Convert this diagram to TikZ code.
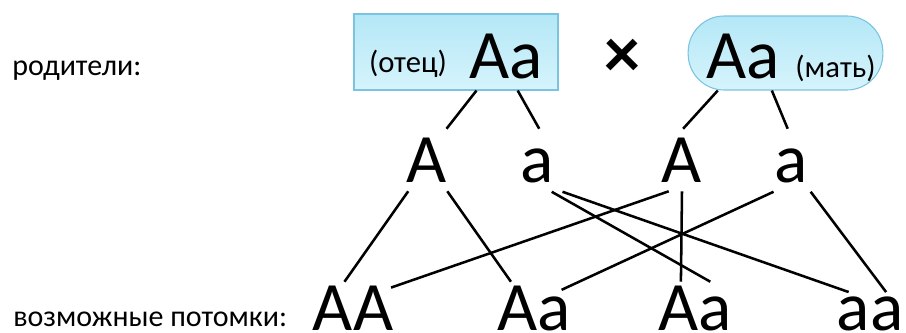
\documentclass[tikz,border=0pt]{standalone}
\usepackage{fontspec}
\setmainfont{Carlito}

\definecolor{rand}{RGB}{122,196,224}
\definecolor{oben}{RGB}{180,231,246}
\definecolor{unten}{RGB}{214,244,252}

\begin{document}
\begin{tikzpicture}[x=0.75pt,y=-0.75pt,line width=1.9pt,
  klein/.style={font=\fontsize{22.5}{26}\selectfont,inner sep=0pt},
  gross/.style={font=\fontsize{52}{60}\selectfont,anchor=base},
  eltern/.style={draw=rand,line width=0.8pt,top color=oben,bottom color=unten,
    inner sep=0pt,text depth=0pt}]

\useasboundingbox (0,0) rectangle (906,332);

\def\kl{\fontsize{23}{26}\selectfont}
\def\gr{\fontsize{52}{60}\selectfont}

% Beschriftung
\node[klein,anchor=base west] (eltlbl) at (11,75) {родители:};
\node[klein,anchor=base west] (kindlbl) at (12,326) {возможные потомки:};

% Eltern
\node[eltern,minimum width=153pt,minimum height=57pt,text height=39pt]
  (vater) at (456,52) {\raisebox{4pt}{\kl(отец)}\hspace{17pt}{\gr Aa}};
\node[eltern,rounded corners=27pt,minimum width=146pt,minimum height=55.5pt,text height=38pt]
  (mutter) at (785.5,53) {\hspace{8pt}{\gr Aa}\hspace{12pt}\raisebox{1pt}{\kl(мать)}};
\node[font=\fontsize{54}{60}\selectfont\bfseries,inner sep=0pt] (mal) at (622,58) {×};

% Keimzellen
\begin{scope}[every node/.style={gross,inner sep=6pt,text height=33pt}]
\node (A1) at (427,182) {A};
\node (a1) at (537,182) {a};
\node (A2) at (682,182) {A};
\node (a2) at (791,182) {a};
\end{scope}

% Nachkommen
\begin{scope}[every node/.style={gross,inner sep=2.25pt}]
\node[text height=33pt] (AA) at (353,330) {AA};
\node[text height=33pt] (Aa1) at (534,330) {Aa};
\node[text height=33pt] (Aa2) at (695,330) {Aa};
\node (aa) at (870,330) {aa};
\end{scope}

% Linien Eltern
\draw (vater.-62) -- (A1.58);
\draw (vater.-32) -- (a1.86);
\draw (mutter.-151) -- (A2.88);
\draw (mutter.-110) -- (a2.96);

% Linien Nachkommen
\draw (A1.-121) -- (AA.108);
\draw (A1.-57) -- (Aa1.131);
\draw (a1.-65) -- (Aa2.60);
\draw (a1.-51) -- (aa.135);
\draw[shorten >=-5pt] (A2.-113) -- (AA.27);
\draw (A2.-90) -- (Aa2.118);
\draw[shorten >=-11pt] (a2.-119) -- (Aa1.31);
\draw (a2.-58) -- (aa.53);

\end{tikzpicture}
\end{document}
